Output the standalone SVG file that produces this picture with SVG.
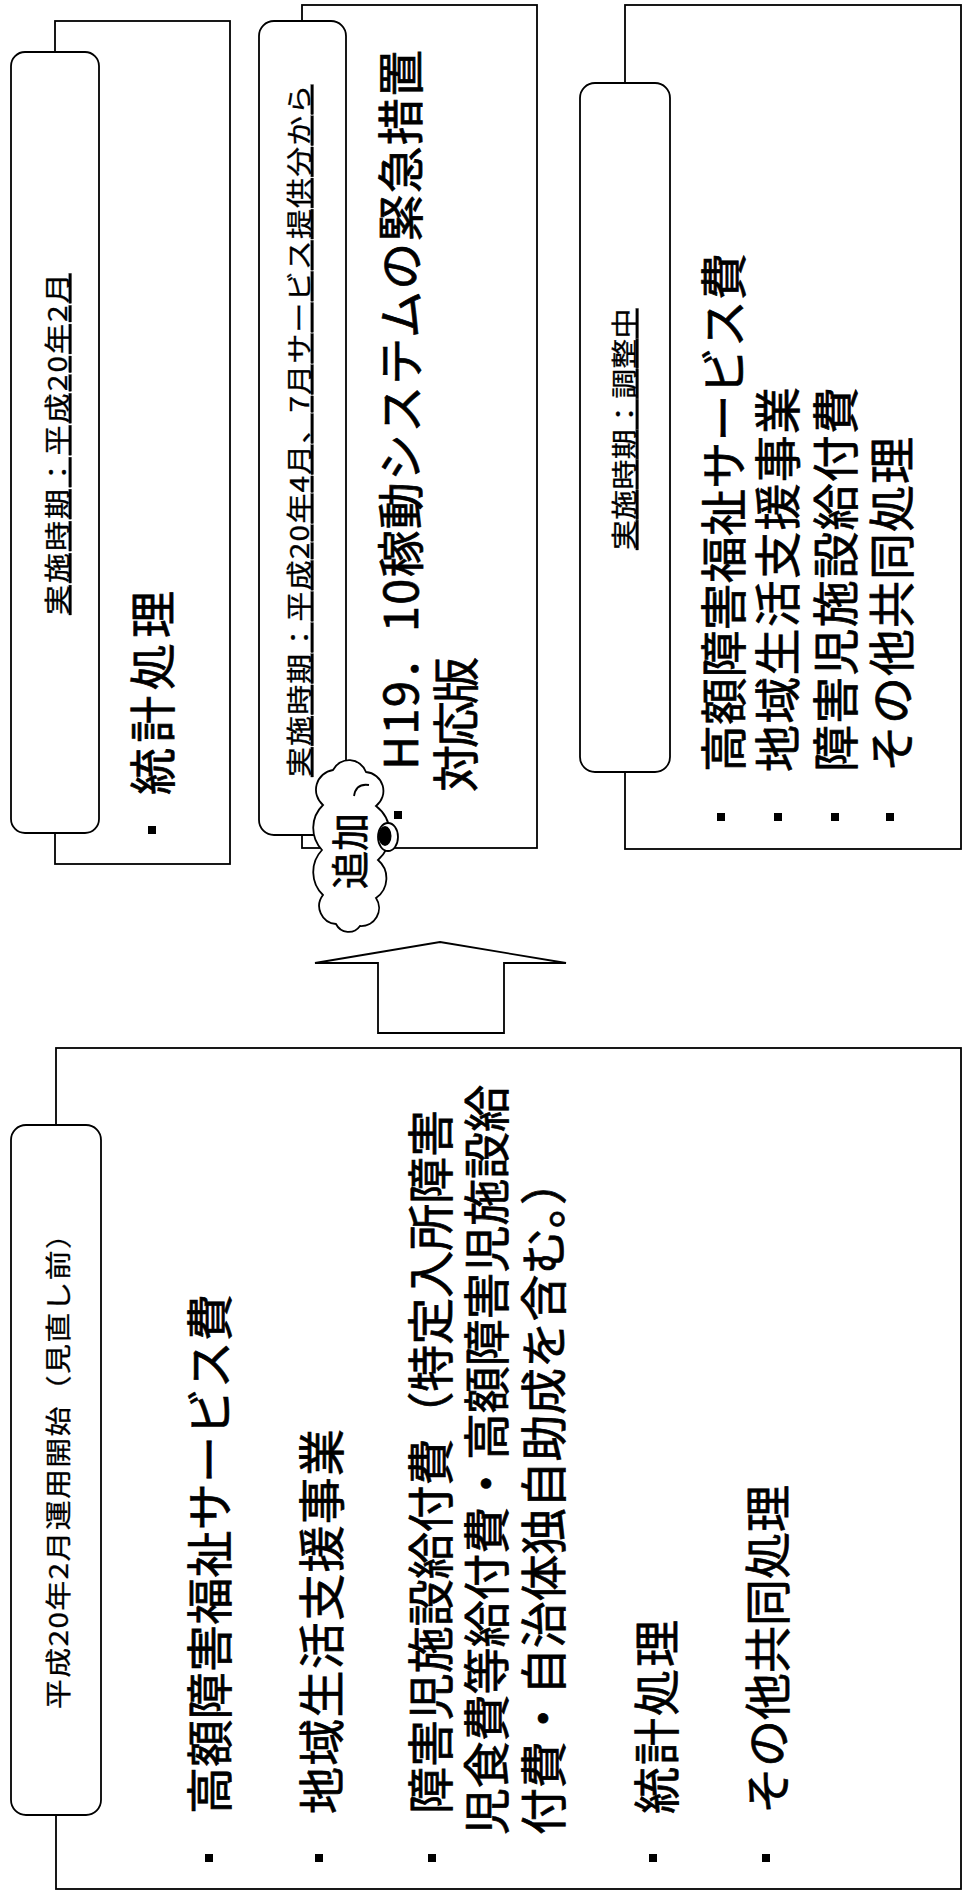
<svg xmlns="http://www.w3.org/2000/svg" width="963" height="1891" viewBox="0 0 963 1891">
<style>
.box{fill:#fff;stroke:#000;stroke-width:1.8}
.lbl{fill:#fff;stroke:#000;stroke-width:1.8}
.t{font-family:"Noto Sans CJK JP","Noto Sans CJK SC",sans-serif;font-size:47px;fill:#000;stroke:#000;stroke-width:0.7}
.s{font-family:"Noto Sans CJK JP","Noto Sans CJK SC",sans-serif;font-size:26px;fill:#000;stroke:#000;stroke-width:0.3}
.u{text-decoration:underline}
.b{fill:#000}
</style>
<rect width="963" height="1891" fill="#fff"/>
<g id="connectors">
<polygon class="box" points="440,942 566,963 504,963 504,1033 378,1033 378,963 315,963"/>
</g>
<g id="box-a">
<rect class="box" x="55" y="21" width="175" height="843"/>
<rect class="lbl" x="11" y="52" width="88" height="781" rx="14"/>
<text class="s u" transform="translate(67,615) rotate(-90) scale(1.15,1)" textLength="297" lengthAdjust="spacing">実施時期：平成20年2月</text>
<rect class="b" x="148" y="826" width="8" height="8"/>
<text class="t" transform="translate(170,795) rotate(-90)" textLength="204" lengthAdjust="spacing">統計処理</text>
</g>
<g id="box-b">
<rect class="box" x="302" y="5" width="235" height="843"/>
<rect class="lbl" x="259" y="21" width="87" height="814" rx="15"/>
<text class="s u" transform="translate(309,777) rotate(-90) scale(1.15,1)" textLength="602" lengthAdjust="spacing">実施時期：平成20年4月、7月サービス提供分から</text>
<rect class="b" x="394" y="811" width="8" height="8"/>
<text class="t" transform="translate(418,770) rotate(-90)" textLength="720" lengthAdjust="spacing">H19．10稼動システムの緊急措置</text>
<text class="t" transform="translate(473,792) rotate(-90)" textLength="135" lengthAdjust="spacing">対応版</text>
</g>
<g id="cloud">
<path class="box" d="M333 770 A18 18 0 0 1 366 772 A19 19 0 0 1 376 806 A35 35 0 0 1 378 860 A24 24 0 0 1 376 898 A18 18 0 0 1 360 926 A14 14 0 0 1 336 924 A18 18 0 0 1 323 895 A32 32 0 0 1 322 850 A32 32 0 0 1 323 805 A20 20 0 0 1 333 770 Z"/>
<path d="M354 796 Q356 783 369 785" fill="none" stroke="#000" stroke-width="1.8"/>
<text class="t" style="font-size:38px" transform="translate(364,889) rotate(-90)" textLength="76" lengthAdjust="spacing">追加</text>
<ellipse cx="388" cy="837" rx="10" ry="14" fill="#fff" stroke="#000" stroke-width="1.8"/>
<ellipse cx="385" cy="836" rx="6.5" ry="10" fill="#000"/>
</g>
<g id="box-c">
<rect class="box" x="625" y="5" width="336" height="844"/>
<rect class="lbl" x="580" y="83" width="90" height="689" rx="15"/>
<text class="s u" transform="translate(634,550) rotate(-90) scale(1.15,1)" textLength="210" lengthAdjust="spacing">実施時期：調整中</text>
<rect class="b" x="717" y="813" width="8" height="8"/>
<rect class="b" x="774" y="813" width="8" height="8"/>
<rect class="b" x="831" y="813" width="8" height="8"/>
<rect class="b" x="886" y="813" width="8" height="8"/>
<text class="t" transform="translate(741,772) rotate(-90)" textLength="519" lengthAdjust="spacing">高額障害福祉サービス費</text>
<text class="t" transform="translate(795,772) rotate(-90)" textLength="385" lengthAdjust="spacing">地域生活支援事業</text>
<text class="t" transform="translate(853,772) rotate(-90)" textLength="385" lengthAdjust="spacing">障害児施設給付費</text>
<text class="t" transform="translate(909,772) rotate(-90)" textLength="335" lengthAdjust="spacing">その他共同処理</text>
</g>
<g id="box-d">
<rect class="box" x="56" y="1048" width="905" height="841"/>
<rect class="lbl" x="11" y="1125" width="90" height="690" rx="15"/>
<text class="s" transform="translate(68,1709) rotate(-90) scale(1.15,1)" textLength="426" lengthAdjust="spacing">平成20年2月運用開始（見直し前）</text>
<rect class="b" x="205" y="1854" width="8" height="8"/>
<rect class="b" x="315" y="1854" width="8" height="8"/>
<rect class="b" x="428" y="1854" width="8" height="8"/>
<rect class="b" x="649" y="1854" width="8" height="8"/>
<rect class="b" x="762" y="1854" width="8" height="8"/>
<text class="t" transform="translate(227,1814) rotate(-90)" textLength="520" lengthAdjust="spacing">高額障害福祉サービス費</text>
<text class="t" transform="translate(339,1814) rotate(-90)" textLength="385" lengthAdjust="spacing">地域生活支援事業</text>
<text class="t" transform="translate(448,1814) rotate(-90)" textLength="704" lengthAdjust="spacing">障害児施設給付費（特定入所障害</text>
<text class="t" transform="translate(504,1835) rotate(-90)" textLength="750" lengthAdjust="spacing">児食費等給付費・高額障害児施設給</text>
<text class="t" transform="translate(561,1835) rotate(-90)" textLength="677" lengthAdjust="spacing">付費・自治体独自助成を含む。）</text>
<text class="t" transform="translate(674,1814) rotate(-90)" textLength="194" lengthAdjust="spacing">統計処理</text>
<text class="t" transform="translate(785,1814) rotate(-90)" textLength="329" lengthAdjust="spacing">その他共同処理</text>
</g>
</svg>
